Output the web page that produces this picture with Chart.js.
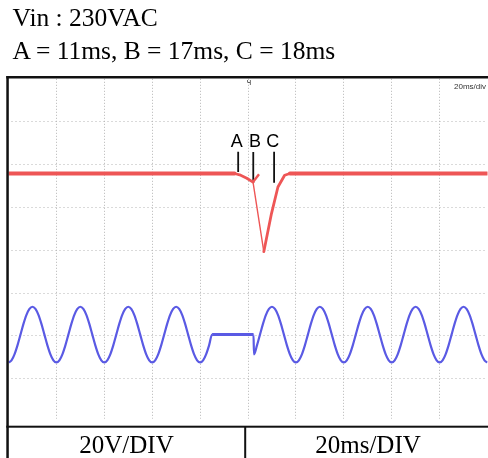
<!DOCTYPE html>
<html>
<head>
<meta charset="utf-8">
<script src="https://cdn.jsdelivr.net/npm/chart.js@4.4.0/dist/chart.umd.min.js"></script>
<style>
html,body{margin:0;padding:0;background:#fff;}
#wrap{position:relative;width:488px;height:458px;overflow:hidden;background:#fff;}
#c{position:absolute;left:0;top:0;}
.t{position:absolute;font-family:"Liberation Serif","Times New Roman",serif;font-size:25.5px;line-height:25px;color:#000;white-space:nowrap;}
.cell{position:absolute;text-align:center;font-family:"Liberation Serif","Times New Roman",serif;font-size:25px;line-height:25px;color:#000;white-space:nowrap;}
</style>
</head>
<body>
<div id="wrap">
  <canvas id="c" width="488" height="458"></canvas>
  <div class="t" style="left:12.5px;top:5px;">Vin : 230VAC</div>
  <div class="t" style="left:12.5px;top:38px;">A = 11ms, B = 17ms, C = 18ms</div>
  <div class="cell" style="left:8px;width:237px;top:432px;">20V/DIV</div>
  <div class="cell" style="left:246px;width:244px;top:432px;">20ms/DIV</div>
</div>
<script>
// ---- data (time in ms, vertical in V at 20 V/div) ----
const SAMPLE_MS = 1.25;
const gridTimes = [20, 40, 60, 80, 100, 120, 140, 160, 180];
const gridVolts = [-60, -40, -20, 0, 20, 40, 60];

const blueLeftStartMs = 0;
const blueLeftVolts = [
  -52.4,-51.4,-48.6,-44.4,-39.4,-34.4,-30.2,-27.4,-26.4,-27.4,-30.2,-34.4,-39.4,-44.4,-48.6,-51.4,
  -52.4,-51.4,-48.6,-44.4,-39.4,-34.4,-30.2,-27.4,-26.4,-27.4,-30.2,-34.4,-39.4,-44.4,-48.6,-51.4,
  -52.4,-51.4,-48.6,-44.4,-39.4,-34.4,-30.2,-27.4,-26.4,-27.4,-30.2,-34.4,-39.4,-44.4,-48.6,-51.4,
  -52.4,-51.4,-48.6,-44.4,-39.4,-34.4,-30.2,-27.4,-26.4,-27.4,-30.2,-34.4,-39.4,-44.4,-48.6,-51.4,
  -52.4,-51.4,-48.6,-44.4,-39.4
];
const blueDropoutMs = [86.0, 102.3];
const blueDropoutVolts = [-39.4, -39.4];
const blueRightStartMs = 102.5;
const blueRightVolts = [
  -48.6,-44.4,-39.4,-34.4,-30.2,-27.4,-26.4,-27.4,-30.2,-34.4,-39.4,-44.4,-48.6,-51.4,
  -52.4,-51.4,-48.6,-44.4,-39.4,-34.4,-30.2,-27.4,-26.4,-27.4,-30.2,-34.4,-39.4,-44.4,-48.6,-51.4,
  -52.4,-51.4,-48.6,-44.4,-39.4,-34.4,-30.2,-27.4,-26.4,-27.4,-30.2,-34.4,-39.4,-44.4,-48.6,-51.4,
  -52.4,-51.4,-48.6,-44.4,-39.4,-34.4,-30.2,-27.4,-26.4,-27.4,-30.2,-34.4,-39.4,-44.4,-48.6,-51.4,
  -52.4,-51.4,-48.6,-44.4,-39.4,-34.4,-30.2,-27.4,-26.4,-27.4,-30.2,-34.4,-39.4,-44.4,-48.6,-51.4,
  -52.4
];

const redTimesMs = [0, 94.4, 96.5, 99.5, 102.1, 106.6, 109.8, 112.5, 115.3, 117.5, 200];
const redVolts   = [35.8, 35.8, 35.2, 33.6, 31.8, -0.7, 17.1, 29.5, 35.0, 35.8, 35.8];
const redBranchTimesMs = [102.1, 104.6];
const redBranchVolts   = [31.8, 35.4];

const markerLabels = ['A', 'B', 'C'];
const markerTimesMs = [95.9, 102.2, 110.9];
const markerTopVolts = [46.0, 45.8, 46.0];
const markerBottomVolts = [36.5, 31.4, 31.5];
const markerLabelTimesMs = [95.3, 102.9, 110.3];
const markerLabelVolts = 48.2;

// ---- build points ----
const bluePoints = [];
blueLeftVolts.forEach((v, i) => bluePoints.push({x: blueLeftStartMs + i * SAMPLE_MS, y: v}));
blueDropoutMs.forEach((t, i) => bluePoints.push({x: t, y: blueDropoutVolts[i]}));
blueRightVolts.forEach((v, i) => bluePoints.push({x: blueRightStartMs + i * SAMPLE_MS, y: v}));
const flatStartIndex = blueLeftVolts.length - 1;
const redPoints = redTimesMs.map((t, i) => ({x: t, y: redVolts[i]}));
const redBranch = redBranchTimesMs.map((t, i) => ({x: t, y: redBranchVolts[i]}));

const RED = '#ee5656';
const BLUE = '#5a5ae4';

const markerSets = markerTimesMs.map((t, i) => ({
  data: [{x: t, y: markerTopVolts[i]}, {x: t, y: markerBottomVolts[i]}],
  borderColor: '#111', borderWidth: 1.8, pointRadius: 0, tension: 0
}));

const scopeDecor = {
  id: 'scopeDecor',
  beforeDatasetsDraw(chart) {
    const {ctx, scales: {x, y}, chartArea: a} = chart;
    ctx.save();
    ctx.strokeStyle = '#b5b5b5';
    ctx.lineWidth = 1;
    ctx.setLineDash([1, 2]);
    gridTimes.forEach(t => {
      const px = Math.floor(x.getPixelForValue(t)) + 0.5;
      ctx.beginPath(); ctx.moveTo(px, a.top); ctx.lineTo(px, a.bottom - 3); ctx.stroke();
    });
    ctx.setLineDash([1, 3]);
    gridVolts.forEach(v => {
      const py = Math.floor(y.getPixelForValue(v)) + 0.5;
      ctx.beginPath(); ctx.moveTo(a.left + 3, py); ctx.lineTo(a.right, py); ctx.stroke();
    });
    ctx.restore();
  },
  afterDatasetsDraw(chart) {
    const {ctx, scales: {x, y}, chartArea: a} = chart;
    ctx.save();
    // A B C labels
    ctx.fillStyle = '#000';
    ctx.font = '18px "Liberation Sans", Arial, sans-serif';
    ctx.textAlign = 'center';
    ctx.textBaseline = 'alphabetic';
    markerLabels.forEach((s, i) => {
      ctx.fillText(s, x.getPixelForValue(markerLabelTimesMs[i]), y.getPixelForValue(markerLabelVolts));
    });
    // small scope texts
    ctx.fillStyle = '#333';
    ctx.font = '8px "Liberation Sans", Arial, sans-serif';
    ctx.textAlign = 'right';
    ctx.fillText('20ms/div', 486, a.top + 10);
    ctx.textAlign = 'center';
    ctx.font = '7px "DejaVu Sans", sans-serif';
    ctx.fillText('Ч', x.getPixelForValue(100) + 1, a.top + 6);
    // frame
    ctx.fillStyle = '#111';
    ctx.fillRect(6.3, a.top - 2.8, 488, 2.5);
    ctx.fillRect(6.3, a.top - 2.8, 2.5, 460);
    ctx.fillRect(6.3, 425.7, 488, 2);
    ctx.fillRect(244.2, 426, 2, 40);
    ctx.restore();
  }
};

new Chart(document.getElementById('c'), {
  type: 'line',
  data: {
    datasets: [
      {
        data: bluePoints, borderColor: BLUE, pointRadius: 0,
        cubicInterpolationMode: 'monotone',
        segment: {
          borderWidth: c => (c.p0DataIndex === flatStartIndex || c.p0DataIndex === flatStartIndex + 1) ? 3 : 2.2
        }
      },
      {
        data: redPoints, borderColor: RED, pointRadius: 0, tension: 0,
        borderJoinStyle: 'round', borderCapStyle: 'round',
        segment: {
          borderWidth: c => c.p0DataIndex === 4 ? 1.4 : ((c.p0DataIndex >= 1 && c.p0DataIndex <= 8) ? 2.8 : 3.8)
        }
      },
      {
        data: redBranch, borderColor: RED, borderWidth: 2.4, pointRadius: 0, tension: 0
      },
      ...markerSets
    ]
  },
  options: {
    responsive: false,
    animation: false,
    devicePixelRatio: 1,
    layout: {padding: {left: 8.5, right: 0.5, top: 78.8, bottom: 36.4}},
    plugins: {legend: {display: false}, tooltip: {enabled: false}, title: {display: false}},
    events: [],
    scales: {
      x: {type: 'linear', min: 0, max: 200, display: false},
      y: {type: 'linear', min: -80, max: 80, display: false}
    }
  },
  plugins: [scopeDecor]
});
</script>
</body>
</html>
